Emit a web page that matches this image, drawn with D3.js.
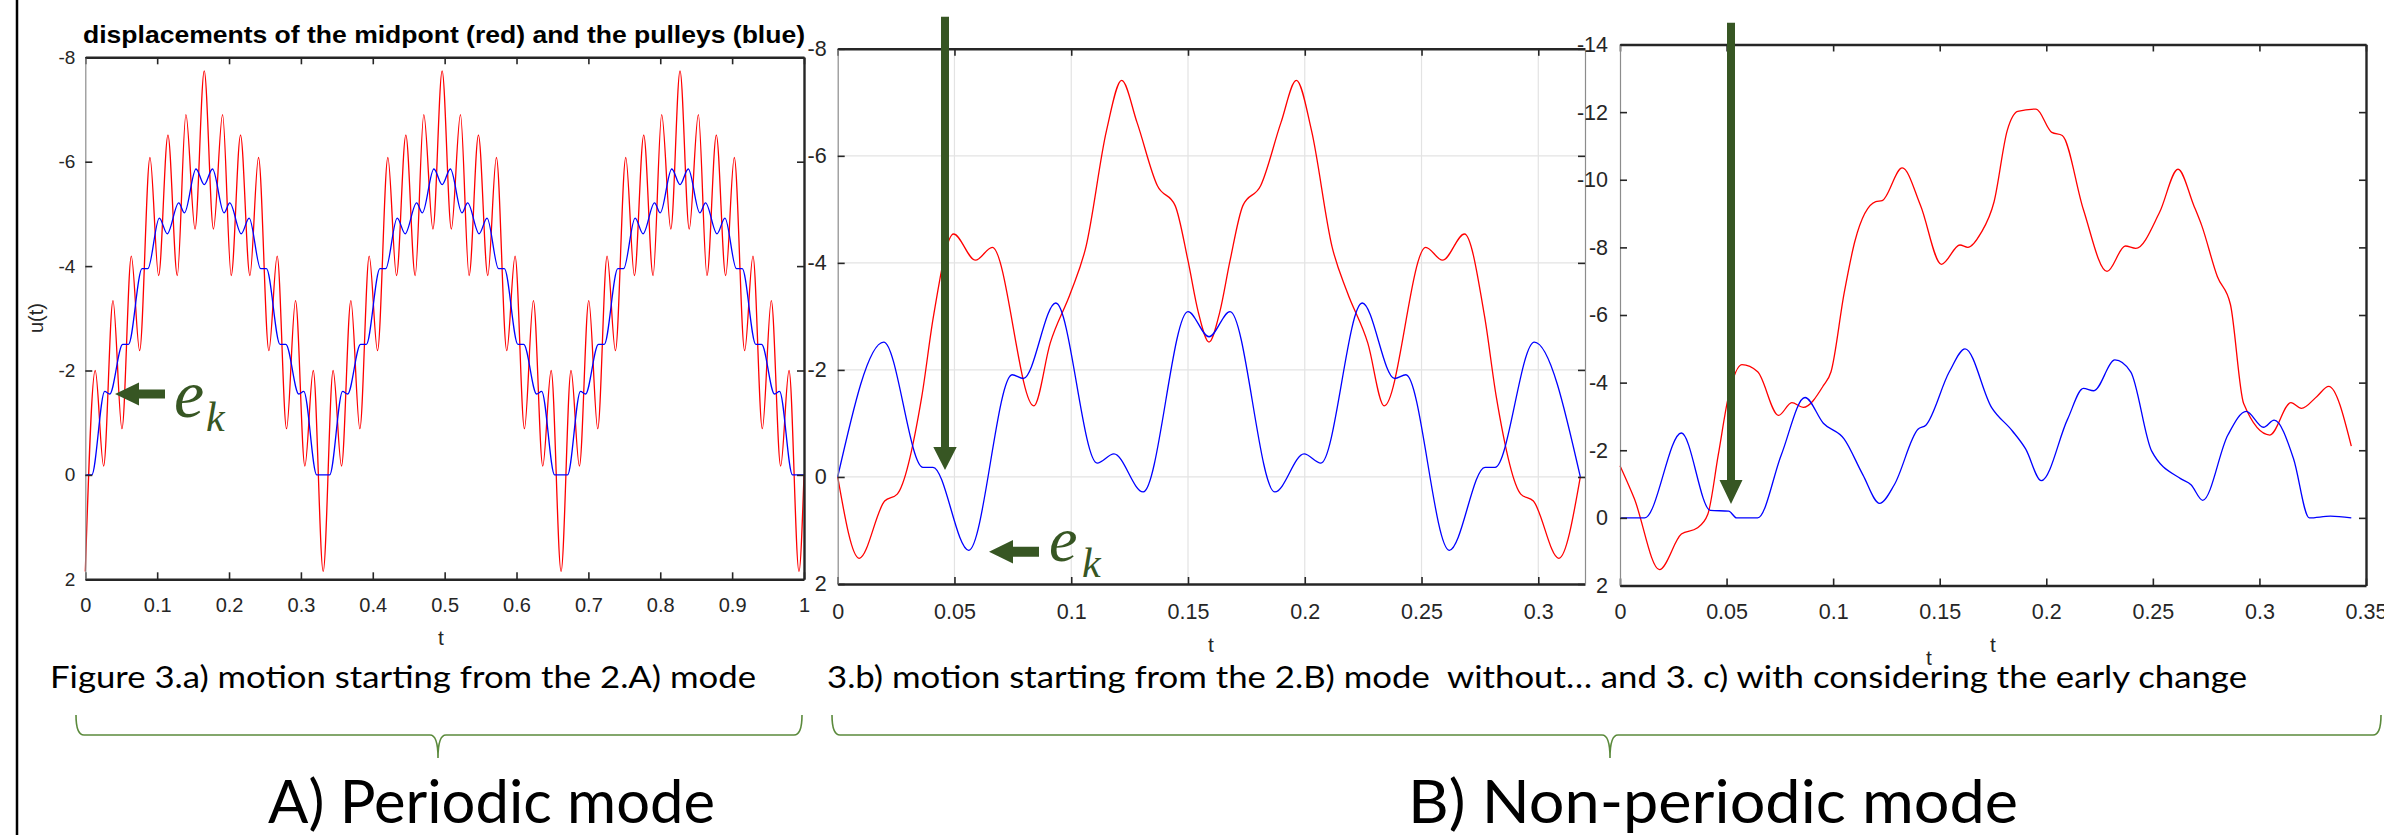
<!DOCTYPE html>
<html>
<head>
<meta charset="utf-8">
<script src="https://cdn.jsdelivr.net/npm/d3@7"></script>
<style>
  body { margin: 0; background: #fff; }
</style>
</head>
<body>
<svg id="fig" width="2384" height="835" font-family="Liberation Sans, Arial, sans-serif"></svg>
<script>
// tick values
const xTicksA = [0, 0.1, 0.2, 0.3, 0.4, 0.5, 0.6, 0.7, 0.8, 0.9, 1];
const xTicksB = [0, 0.05, 0.1, 0.15, 0.2, 0.25, 0.3];
const xTicksC = [0, 0.05, 0.1, 0.15, 0.2, 0.25, 0.3, 0.35];
const yTicksAB = [-8, -6, -4, -2, 0, 2];
const yTicksC = [-14, -12, -10, -8, -6, -4, -2, 0, 2];

// 3.a) periodic mode, [t, u]
const redA = [
  [0,1.85],[0.0138,-2.0],[0.0255,-0.17],[0.0385,-3.34],[0.051,-0.885],[0.064,-4.19],[0.0756,-2.38],[0.090,-6.08],[0.102,-3.82],[0.115,-6.51],[0.128,-3.82],[0.140,-6.90],[0.1527,-4.71],[0.1655,-7.74],[0.1783,-4.71],[0.191,-6.90],[0.203,-3.82],[0.216,-6.51],[0.229,-3.82],[0.241,-6.08],[0.2554,-2.38],[0.267,-4.19],[0.280,-0.885],[0.2925,-3.34],[0.3055,-0.17],[0.3172,-2.0],[0.331,1.85],
  [0.3448,-2.0],[0.3565,-0.17],[0.3695,-3.34],[0.382,-0.885],[0.395,-4.19],[0.4066,-2.38],[0.421,-6.08],[0.433,-3.82],[0.446,-6.51],[0.459,-3.82],[0.471,-6.90],[0.4837,-4.71],[0.4965,-7.74],[0.5093,-4.71],[0.522,-6.90],[0.534,-3.82],[0.547,-6.51],[0.560,-3.82],[0.572,-6.08],[0.5864,-2.38],[0.598,-4.19],[0.611,-0.885],[0.6235,-3.34],[0.6365,-0.17],[0.6482,-2.0],[0.662,1.85],
  [0.6758,-2.0],[0.6875,-0.17],[0.7005,-3.34],[0.713,-0.885],[0.726,-4.19],[0.7376,-2.38],[0.752,-6.08],[0.764,-3.82],[0.777,-6.51],[0.790,-3.82],[0.802,-6.90],[0.8147,-4.71],[0.8275,-7.74],[0.8403,-4.71],[0.853,-6.90],[0.865,-3.82],[0.878,-6.51],[0.891,-3.82],[0.903,-6.08],[0.9174,-2.38],[0.929,-4.19],[0.942,-0.885],[0.9545,-3.34],[0.9675,-0.17],[0.9792,-2.0],[0.993,1.85],[1.0,0.0]
];
const blueA = [
  [0,0],[0.009,0],[0.027,-1.6],[0.034,-1.55],[0.052,-2.5],[0.060,-2.5],[0.079,-3.95],[0.087,-3.95],[0.103,-4.92],[0.114,-4.62],[0.130,-5.21],[0.138,-5.02],[0.154,-5.86],[0.1655,-5.56],[0.177,-5.86],[0.193,-5.02],[0.201,-5.21],[0.217,-4.62],[0.228,-4.92],[0.244,-3.95],[0.252,-3.95],[0.271,-2.5],[0.279,-2.5],[0.297,-1.55],[0.304,-1.6],[0.322,0],
  [0.331,0],[0.340,0],[0.358,-1.6],[0.365,-1.55],[0.383,-2.5],[0.391,-2.5],[0.410,-3.95],[0.418,-3.95],[0.434,-4.92],[0.445,-4.62],[0.461,-5.21],[0.469,-5.02],[0.485,-5.86],[0.4965,-5.56],[0.508,-5.86],[0.524,-5.02],[0.532,-5.21],[0.548,-4.62],[0.559,-4.92],[0.575,-3.95],[0.583,-3.95],[0.602,-2.5],[0.610,-2.5],[0.628,-1.55],[0.635,-1.6],[0.653,0],
  [0.662,0],[0.671,0],[0.689,-1.6],[0.696,-1.55],[0.714,-2.5],[0.722,-2.5],[0.741,-3.95],[0.749,-3.95],[0.765,-4.92],[0.776,-4.62],[0.792,-5.21],[0.800,-5.02],[0.816,-5.86],[0.8275,-5.56],[0.839,-5.86],[0.855,-5.02],[0.863,-5.21],[0.879,-4.62],[0.890,-4.92],[0.906,-3.95],[0.914,-3.95],[0.933,-2.5],[0.941,-2.5],[0.959,-1.55],[0.966,-1.6],[0.984,0],[1.0,0]
];

// 3.b) from the 2.B) mode, without the early change
const redB = [
  [0,0],[0.0092,1.52],[0.0201,0.45],[0.0255,0.32],[0.036,-1.5],[0.041,-3.0],[0.0496,-4.54],[0.059,-4.05],[0.0662,-4.29],[0.084,-1.33],[0.091,-2.5],[0.0998,-3.45],[0.1063,-4.3],[0.1151,-6.47],[0.1216,-7.41],[0.1282,-6.62],[0.1369,-5.44],[0.1445,-5.07],[0.150,-4.04],[0.1544,-3.08],[0.159,-2.52],
  [0.1636,-3.08],[0.168,-4.04],[0.1735,-5.07],[0.1811,-5.44],[0.1898,-6.62],[0.1964,-7.41],[0.2029,-6.47],[0.2117,-4.3],[0.2182,-3.45],[0.227,-2.5],[0.234,-1.33],[0.2518,-4.29],[0.259,-4.05],[0.2684,-4.54],[0.277,-3.0],[0.282,-1.5],[0.2925,0.32],[0.2979,0.45],[0.3088,1.52],[0.318,0]
];
const blueB = [
  [0,0],[0.0197,-2.52],[0.0365,-0.18],[0.0408,-0.18],[0.0561,1.37],[0.0747,-1.91],[0.0795,-1.84],[0.0934,-3.25],[0.1111,-0.26],[0.1183,-0.43],[0.1308,0.28],[0.150,-3.09],[0.159,-2.62],
  [0.168,-3.09],[0.1872,0.28],[0.1997,-0.43],[0.2069,-0.26],[0.2246,-3.25],[0.2385,-1.84],[0.2433,-1.91],[0.2619,1.37],[0.2772,-0.18],[0.2815,-0.18],[0.2983,-2.52],[0.318,0]
];

// 3.c) with the early change
const redC = [
  [0,-1.54],[0.0067,-0.57],[0.0185,1.53],[0.0288,0.48],[0.0362,0.30],[0.0412,-0.11],[0.0461,-1.86],[0.051,-3.62],[0.0572,-4.53],[0.0646,-4.32],[0.0744,-3.03],[0.0806,-3.41],[0.086,-3.27],[0.0954,-3.91],[0.099,-4.32],[0.1052,-6.66],[0.1102,-8.18],[0.12,-9.35],[0.123,-9.38],[0.1324,-10.35],[0.141,-9.24],[0.1508,-7.5],[0.1595,-8.07],[0.1632,-8.0],[0.1693,-8.42],[0.1755,-9.35],[0.1817,-11.46],[0.1866,-12.02],[0.1952,-12.09],[0.2026,-11.4],[0.2075,-11.31],[0.2174,-9.12],[0.2285,-7.29],[0.2371,-8.04],[0.242,-7.97],[0.2531,-9.03],[0.2618,-10.31],[0.2692,-9.24],[0.2729,-8.65],[0.2803,-7.13],[0.2864,-6.31],[0.2926,-3.38],[0.3049,-2.45],[0.3148,-3.41],[0.3197,-3.24],[0.3271,-3.6],[0.3325,-3.89],[0.3431,-2.12]
];
const blueC = [
  [0,0],[0.0116,0],[0.0288,-2.51],[0.0424,-0.22],[0.051,-0.20],[0.0547,0],[0.0646,0],[0.0757,-1.87],[0.0868,-3.56],[0.0954,-2.8],[0.1052,-2.33],[0.1139,-1.28],[0.1218,-0.43],[0.1287,-0.98],[0.1398,-2.62],[0.1435,-2.74],[0.1545,-4.32],[0.1619,-5.0],[0.1743,-3.27],[0.1841,-2.57],[0.1903,-2.04],[0.1977,-1.1],[0.21,-2.92],[0.2174,-3.83],[0.2223,-3.76],[0.2322,-4.67],[0.2396,-4.32],[0.2494,-1.98],[0.263,-1.16],[0.2679,-0.98],[0.2734,-0.52],[0.2852,-2.45],[0.2938,-3.15],[0.3019,-2.68],[0.3069,-2.89],[0.316,-1.75],[0.3234,0],[0.3333,-0.05],[0.3431,0]
];

var svg = d3.select("#fig");
var green = "#375623";
var axisColor = "#262626";
var capFont = "Lato, 'Open Sans', sans-serif";
var mathFont = "'Liberation Serif', 'DejaVu Serif', serif";

var panels = [
  {x0: 85.3, x1: 804, y0: 57.3, y1: 579.3, xDomain: [0, 1], yDomain: [-8, 2],
   xTicks: xTicksA, yTicks: yTicksAB, red: redA, blue: blueA, grid: false,
   xFont: 20, yFont: 19, xPad: 19, yPad: 10, rightDark: true, tx: 441, ty: 645},
  {x0: 837.7, x1: 1585, y0: 48.8, y1: 584, xDomain: [0, 0.32], yDomain: [-8, 2],
   xTicks: xTicksB, yTicks: yTicksAB, red: redB, blue: blueB, grid: true,
   xFont: 21.5, yFont: 21.5, xPad: 20, yPad: 11, rightDark: false, tx: 1211, ty: 652},
  {x0: 1620, x1: 2366, y0: 44.5, y1: 585.5, xDomain: [0, 0.35], yDomain: [-14, 2],
   xTicks: xTicksC, yTicks: yTicksC, red: redC, blue: blueC, grid: false,
   xFont: 21.5, yFont: 21.5, xPad: 18.5, yPad: 12, rightDark: true, tx: 1993, ty: 652}
];

function styleAxis(a, font, domainColor, domainWidth) {
  a.attr("font-family", "Liberation Sans, Arial, sans-serif")
   .attr("font-size", font)
   .attr("color", axisColor);
  a.select(".domain").attr("stroke", domainColor).attr("stroke-width", domainWidth);
  a.selectAll(".tick line").attr("stroke", axisColor).attr("stroke-width", 1.6);
}

panels.forEach(p => {
  var x = d3.scaleLinear().domain(p.xDomain).range([p.x0, p.x1]);
  var y = d3.scaleLinear().domain(p.yDomain).range([p.y0, p.y1]);
  var g = svg.append("g");

  if (p.grid) {
    g.append("g").selectAll("line").data(p.xTicks.slice(1)).join("line")
      .attr("x1", d => x(d)).attr("x2", d => x(d))
      .attr("y1", p.y0).attr("y2", p.y1)
      .attr("stroke", "#e3e3e3").attr("stroke-width", 1.2);
    g.append("g").selectAll("line").data(p.yTicks.slice(1, -1)).join("line")
      .attr("x1", p.x0).attr("x2", p.x1)
      .attr("y1", d => y(d)).attr("y2", d => y(d))
      .attr("stroke", "#e3e3e3").attr("stroke-width", 1.2);
  }

  var line = d3.line()
    .x(d => x(d[0]))
    .y(d => y(d[1]))
    .curve(d3.curveMonotoneX);

  g.append("path").datum(p.red).attr("d", line)
    .attr("fill", "none").attr("stroke", "#ff0000").attr("stroke-width", 1.3);
  g.append("path").datum(p.blue).attr("d", line)
    .attr("fill", "none").attr("stroke", "#0000ff").attr("stroke-width", 1.3);

  var fmt = d => String(d);

  var bottom = g.append("g").attr("transform", "translate(0," + p.y1 + ")")
    .call(d3.axisBottom(x).tickValues(p.xTicks).tickFormat(fmt)
      .tickSizeInner(-7).tickSizeOuter(0).tickPadding(p.xPad));
  styleAxis(bottom, p.xFont, axisColor, 2.4);

  var top = g.append("g").attr("transform", "translate(0," + p.y0 + ")")
    .call(d3.axisTop(x).tickValues(p.xTicks).tickFormat("")
      .tickSizeInner(-7).tickSizeOuter(0));
  styleAxis(top, p.xFont, axisColor, 2.4);

  var left = g.append("g").attr("transform", "translate(" + p.x0 + ",0)")
    .call(d3.axisLeft(y).tickValues(p.yTicks).tickFormat(fmt)
      .tickSizeInner(-7).tickSizeOuter(0).tickPadding(p.yPad));
  styleAxis(left, p.yFont, "#8c8c8c", 1.2);

  var right = g.append("g").attr("transform", "translate(" + p.x1 + ",0)")
    .call(d3.axisRight(y).tickValues(p.yTicks).tickFormat("")
      .tickSizeInner(-7).tickSizeOuter(0));
  styleAxis(right, p.yFont, p.rightDark ? axisColor : "#8c8c8c", p.rightDark ? 2.4 : 1.2);

  g.append("text").attr("x", p.tx).attr("y", p.ty)
    .attr("text-anchor", "middle").attr("font-size", 21).attr("fill", axisColor)
    .text("t");
});

// stray axis label sitting on the caption
svg.append("text").attr("x", 1929).attr("y", 665)
  .attr("text-anchor", "middle").attr("font-size", 21).attr("fill", axisColor)
  .text("t");

svg.append("text")
  .attr("transform", "translate(43,318) rotate(-90)")
  .attr("text-anchor", "middle").attr("font-size", 20).attr("fill", axisColor)
  .text("u(t)");

svg.append("text").attr("x", 83).attr("y", 43)
  .attr("font-size", 24).attr("font-weight", "bold").attr("fill", "#000")
  .attr("textLength", 722).attr("lengthAdjust", "spacingAndGlyphs")
  .text("displacements of the midpont (red) and the pulleys (blue)");

// green arrows
function hArrow(tip, y, headLen, shaftEnd, headHalf, shaftHalf) {
  var b = tip + headLen;
  return [[tip, y], [b, y - headHalf], [b, y - shaftHalf], [shaftEnd, y - shaftHalf],
          [shaftEnd, y + shaftHalf], [b, y + shaftHalf], [b, y + headHalf]];
}
function vArrow(x, top, headStart, tip, headHalf, shaftHalf) {
  return [[x - shaftHalf, top], [x + shaftHalf, top], [x + shaftHalf, headStart],
          [x + headHalf, headStart], [x, tip], [x - headHalf, headStart], [x - shaftHalf, headStart]];
}
var arrows = [
  hArrow(115, 394, 24, 165, 11.5, 4.6),
  hArrow(989, 551.7, 24, 1039, 11.7, 5),
  vArrow(945, 16.7, 447, 470, 11.7, 4),
  vArrow(1731, 22.7, 480, 504, 11.5, 4)
];
svg.append("g").selectAll("polygon").data(arrows).join("polygon")
  .attr("points", d => d.map(q => q.join(",")).join(" "))
  .attr("fill", green);

// e_k labels
[[174, 417, 206, 431, 68], [1049, 561, 1082, 577, 64]].forEach(e => {
  svg.append("text").attr("x", e[0]).attr("y", e[1])
    .style("font-family", mathFont).attr("font-style", "italic")
    .attr("font-size", e[4]).attr("fill", green).text("e");
  svg.append("text").attr("x", e[2]).attr("y", e[3])
    .style("font-family", mathFont).attr("font-style", "italic")
    .attr("font-size", 42).attr("fill", green).text("k");
});

// captions
svg.append("text").attr("x", 50).attr("y", 688)
  .style("font-family", capFont).attr("font-size", 31).attr("fill", "#000")
  .attr("textLength", 706).attr("lengthAdjust", "spacingAndGlyphs")
  .text("Figure 3.a) motion starting from the 2.A) mode");
svg.append("text").attr("x", 827).attr("y", 688)
  .style("font-family", capFont).attr("font-size", 31).attr("fill", "#000")
  .attr("textLength", 1420).attr("lengthAdjust", "spacingAndGlyphs")
  .style("white-space", "pre")
  .text("3.b) motion starting from the 2.B) mode  without\u2026 and 3. c) with considering the early change");

// braces
function brace(l, r, mid, yLine, yEnd, yTip) {
  return "M" + l + "," + yEnd + " Q" + l + "," + yLine + " " + (l + 8) + "," + yLine +
    " L" + (mid - 8) + "," + yLine + " Q" + mid + "," + yLine + " " + mid + "," + yTip +
    " Q" + mid + "," + yLine + " " + (mid + 8) + "," + yLine +
    " L" + (r - 8) + "," + yLine + " Q" + r + "," + yLine + " " + r + "," + yEnd;
}
svg.append("path").attr("d", brace(76, 802, 438, 735, 715, 758))
  .attr("fill", "none").attr("stroke", "#5b8a3c").attr("stroke-width", 1.6);
svg.append("path").attr("d", brace(832, 2381, 1610, 735, 715, 758))
  .attr("fill", "none").attr("stroke", "#5b8a3c").attr("stroke-width", 1.6);

svg.append("text").attr("x", 268).attr("y", 823)
  .style("font-family", capFont).attr("font-size", 60).attr("fill", "#000")
  .attr("textLength", 447).attr("lengthAdjust", "spacingAndGlyphs")
  .text("A) Periodic mode");
svg.append("text").attr("x", 1408).attr("y", 823)
  .style("font-family", capFont).attr("font-size", 60).attr("fill", "#000")
  .attr("textLength", 610).attr("lengthAdjust", "spacingAndGlyphs")
  .text("B) Non-periodic mode");

// left frame line
svg.append("line").attr("x1", 17).attr("x2", 17).attr("y1", 0).attr("y2", 835)
  .attr("stroke", "#000").attr("stroke-width", 2.5);
</script>
</body>
</html>
